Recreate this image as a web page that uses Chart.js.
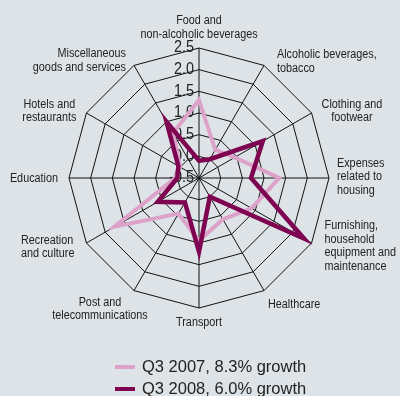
<!DOCTYPE html>
<html>
<head>
<meta charset="utf-8">
<script src="https://cdn.jsdelivr.net/npm/chart.js@4"></script>
<style>
  html, body { margin: 0; padding: 0; background: #dde3e6; }
  #wrap { position: relative; width: 400px; height: 396px; }
  #legend { position: absolute; left: 115px; top: 355px; font: 16.5px "Liberation Sans", Arial, sans-serif; color: #222; }
  #legend div { height: 22px; line-height: 22px; white-space: nowrap; }
  #legend span.sw { display: inline-block; width: 20px; height: 4px; vertical-align: middle; margin-right: 7px; position: relative; top: -1px; }
</style>
</head>
<body>
<div id="wrap">
  <canvas id="cpiRadar" width="400" height="396"></canvas>
  <div id="legend"></div>
</div>
<script>
  "use strict";

  // categories, clockwise from the top
  var categories = [
    ['Food and', 'non-alcoholic beverages'],
    ['Alcoholic beverages,', 'tobacco'],
    ['Clothing and', 'footwear'],
    ['Expenses', 'related to', 'housing'],
    ['Furnishing,', 'household', 'equipment and', 'maintenance'],
    ['Healthcare'],
    ['Transport'],
    ['Post and', 'telecommunications'],
    ['Recreation', 'and culture'],
    ['Education'],
    ['Hotels and', 'restaurants'],
    ['Miscellaneous', 'goods and services']
  ];

  var seriesNames = ['Q3 2007, 8.3% growth', 'Q3 2008, 6.0% growth'];
  var seriesColors = ['#dca2c9', '#7e0452'];

  var q3_2007 = [1.3, 0.25, 0.45, 1.35, 0.9, 0.6, 0.95, 0.45, 1.75, 0.05, 0.0, 0.7];
  var q3_2008 = [-0.1, 0.0, 1.2, 0.7, 2.3, 0.0, 1.2, 0.15, 0.6, 0.0, 0.05, 1.0];

  var scaleMin = -0.5;
  var scaleMax = 2.5;
  var scaleStep = 0.5;

  // where each category label sits relative to its spoke end:
  // side = which edge of the text block is anchored, dx/dy nudge, align = line alignment
  var labelPlace = [
    { side: 'bottom', dx: 0, dy: -7, align: 'center' },
    { side: 'left', dx: 13, dy: -4, align: 'left' },
    { side: 'left', dx: 10, dy: -2, align: 'center' },
    { side: 'left', dx: 8, dy: -1, align: 'left' },
    { side: 'left', dx: 13, dy: 3, align: 'left' },
    { side: 'topleft', dx: 4, dy: 7, align: 'left' },
    { side: 'top', dx: 0, dy: 8, align: 'center' },
    { side: 'top', dx: -34, dy: 5, align: 'center' },
    { side: 'right', dx: -12, dy: 4, align: 'left' },
    { side: 'right', dx: -11, dy: 1, align: 'right' },
    { side: 'right', dx: -10, dy: -2, align: 'center' },
    { side: 'right', dx: -8, dy: -5, align: 'right' }
  ];

  var labelFont = '12.5px "Liberation Sans", Arial, sans-serif';
  var labelSqueeze = 0.865;   // narrow the face to look condensed
  var lineH = 13.5;

  var radarText = {
    id: 'radarText',
    beforeDatasetsDraw: function(chart) {
      var scale = chart.scales.r;
      var ctx = chart.ctx;

      // tick numbers just left of the vertical spoke, centre one included
      ctx.save();
      ctx.font = '16px "Liberation Sans", Arial, sans-serif';
      ctx.fillStyle = '#222';
      ctx.textAlign = 'right';
      ctx.textBaseline = 'middle';
      scale.ticks.forEach(function(t) {
        var d = scale.getDistanceFromCenterForValue(t.value);
        ctx.save();
        ctx.translate(scale.xCenter - 5, scale.yCenter - d);
        ctx.scale(0.9, 1);
        ctx.fillText(t.label, 0, 0);
        ctx.restore();
      });
      ctx.restore();

      // category labels
      ctx.save();
      ctx.font = labelFont;
      ctx.fillStyle = '#222';
      ctx.textBaseline = 'middle';
      categories.forEach(function(lines, i) {
        var p = scale.getPointPosition(i, scale.drawingArea);
        var pl = labelPlace[i];
        var w = 0;
        lines.forEach(function(s) { w = Math.max(w, ctx.measureText(s).width * labelSqueeze); });
        var h = lines.length * lineH;
        var x0, y0;
        var ax = p.x + pl.dx, ay = p.y + pl.dy;
        if (pl.side === 'bottom') { x0 = ax - w / 2; y0 = ay - h; }
        else if (pl.side === 'top') { x0 = ax - w / 2; y0 = ay; }
        else if (pl.side === 'topleft') { x0 = ax; y0 = ay; }
        else if (pl.side === 'left') { x0 = ax; y0 = ay - h / 2; }
        else { x0 = ax - w; y0 = ay - h / 2; }
        lines.forEach(function(s, k) {
          var lw = ctx.measureText(s).width * labelSqueeze;
          var lx = x0;
          if (pl.align === 'center') lx = x0 + (w - lw) / 2;
          else if (pl.align === 'right') lx = x0 + w - lw;
          ctx.save();
          ctx.translate(lx, y0 + lineH * (k + 0.5));
          ctx.scale(labelSqueeze, 1);
          ctx.textAlign = 'left';
          ctx.fillText(s, 0, 0);
          ctx.restore();
        });
      });
      ctx.restore();
    }
  };

  var ctx = document.getElementById('cpiRadar');
  var chart = new Chart(ctx, {
    type: 'radar',
    data: {
      labels: categories,
      datasets: [{
          label: seriesNames[0],
          data: q3_2007,
          borderColor: seriesColors[0],
          borderWidth: 4,
          borderJoinStyle: 'miter',
          pointRadius: 0,
          fill: false,
          order: 1
        },
        {
          label: seriesNames[1],
          data: q3_2008,
          borderColor: seriesColors[1],
          borderWidth: 4.5,
          borderJoinStyle: 'miter',
          pointRadius: 0,
          fill: false,
          order: 0
        }
      ]
    },
    options: {
      responsive: false,
      animation: false,
      layout: {
        // puts the centre at (199, 178) with a 130px outer ring
        padding: { top: 48, bottom: 88, left: 69, right: 71 }
      },
      plugins: {
        legend: { display: false },
        tooltip: { enabled: false }
      },
      scales: {
        r: {
          min: scaleMin,
          max: scaleMax,
          beginAtZero: false,
          angleLines: { color: '#111', lineWidth: 1 },
          grid: { color: '#111', lineWidth: 1 },
          ticks: {
            display: false,
            stepSize: scaleStep,
            callback: function(v) { return v.toFixed(1); }
          },
          pointLabels: { display: false }
        }
      }
    },
    plugins: [radarText]
  });

  // legend stacked under the chart
  var legend = document.getElementById('legend');
  seriesNames.forEach(function(name, i) {
    var row = document.createElement('div');
    var sw = document.createElement('span');
    sw.className = 'sw';
    sw.style.background = seriesColors[i];
    row.appendChild(sw);
    row.appendChild(document.createTextNode(name));
    legend.appendChild(row);
  });
</script>
</body>
</html>
